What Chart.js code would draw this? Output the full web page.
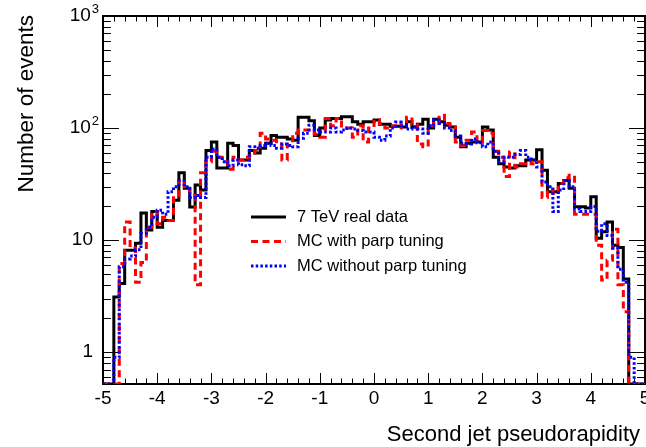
<!DOCTYPE html>
<html>
<head>
<meta charset="utf-8">
<script src="https://cdn.jsdelivr.net/npm/chart.js@4.4.3/dist/chart.umd.min.js"></script>
<style>
  html, body { margin: 0; padding: 0; background: #fff; }
  #wrap { width: 646px; height: 447px; }
</style>
</head>
<body>
<div id="wrap"><canvas id="chart" width="646" height="447"></canvas></div>
<script>
// binning of the histogram: 100 bins of 0.1 in pseudorapidity
const etaMin = -5;
const etaMax = 5;
const nBins = 100;

// bin contents (0 = empty bin)
const realData = [
  0, 0, 3.1, 4.1, 8.1, 8.1, 9.4, 17.5, 12.3, 18,
  13, 15, 15, 22.7, 40, 29, 19.7, 31, 28, 63,
  75, 44, 44, 73, 70, 52, 52, 63, 60, 66,
  73, 86, 83, 83, 80, 78, 125, 125, 116, 86,
  100, 118, 122, 122, 126, 126, 114, 108, 114, 114,
  118, 108, 108, 104, 104, 102, 114, 102, 108, 120,
  100, 120, 114, 106, 102, 83, 68, 73, 75, 75,
  102, 96, 55, 48, 45, 44, 46, 46, 52, 52,
  64, 42, 27, 27, 32, 34, 29, 19.8, 19.8, 19.3,
  24.4, 10.4, 11.9, 14.5, 9, 8.6, 4.5, 0, 0, 0
];
const mcParpTuned = [
  0, 0, 0, 6.2, 14.5, 8.5, 4.2, 6.3, 13, 18,
  14, 16, 15, 25, 34, 30, 25, 4, 40, 50,
  62, 55, 50, 43, 55, 52, 55, 57, 63, 90,
  80, 78, 72, 52, 70, 90, 96, 96, 92, 88,
  83, 122, 105, 122, 100, 100, 83, 105, 75, 100,
  118, 110, 100, 105, 100, 110, 125, 108, 72, 68,
  105, 110, 130, 110, 102, 75, 70, 78, 92, 75,
  95, 90, 62, 55, 37, 61, 45, 48, 50, 48,
  50, 24, 28, 26, 32, 36, 38, 17, 17, 17,
  17, 9, 4.4, 6.6, 12.5, 4, 2.3, 0, 0, 0
];
const mcNoParpTuning = [
  0, 0, 0.9, 5.8, 6.8, 7.2, 8.2, 11.5, 13, 16,
  18.5, 17, 27, 30, 34, 30, 24, 25, 24, 55,
  65, 55, 50, 46, 52, 47, 46, 68, 66, 70,
  73, 70, 66, 72, 70, 68, 81, 90, 106, 96,
  92, 92, 100, 92, 96, 100, 98, 95, 92, 92,
  83, 78, 85, 100, 113, 105, 98, 102, 98, 90,
  105, 118, 110, 100, 95, 85, 73, 72, 80, 74,
  68, 75, 62, 50, 55, 55, 58, 63, 55, 52,
  45, 33, 30, 18, 28, 34, 30, 19, 18, 18,
  20, 12, 14, 11, 8.5, 5.5, 4.2, 0.9, 0, 0
];

const seriesLabels = ['7 TeV real data', 'MC with parp tuning', 'MC without parp tuning'];

const xTickValues = [-5, -4, -3, -2, -1, 0, 1, 2, 3, 4, 5];
const xTickLabels = ['-5', '-4', '-3', '-2', '-1', '0', '1', '2', '3', '4', '5'];
const yTickValues = [1, 10, 100, 1000];
const yTickLabels = ['1', '10', '10^2', '10^3'];

const yMin = 0.52;
const yMax = 1000;

const FONT = "'Liberation Sans', Arial, Helvetica, sans-serif";

const binWidth = (etaMax - etaMin) / nBins;
const binLow = realData.map((_, i) => etaMin + i * binWidth);

// histogram outline: one point per low edge, closing point at the upper edge.
// empty bins go along the bottom of the frame like ROOT does on a log pad
function histPoints(values) {
  const pts = values.map((v, i) => ({ x: binLow[i], y: v > 0 ? v : yMin }));
  pts.push({ x: etaMax, y: pts[pts.length - 1].y });
  return pts;
}

const rootFrame = {
  id: 'rootFrame',
  beforeDatasetsDraw(chart) {
    const { ctx, chartArea: a, scales: { x, y } } = chart;
    ctx.save();
    ctx.strokeStyle = '#000';
    ctx.lineWidth = 1;
    ctx.beginPath();
    // x ticks, every 0.2, inward on bottom and top
    for (let k = 0; k <= 50; k++) {
      const v = etaMin + k * 0.2;
      const px = Math.round(x.getPixelForValue(v)) + 0.5;
      const len = k % 5 === 0 ? 11 : 5.5;
      ctx.moveTo(px, a.bottom); ctx.lineTo(px, a.bottom - len);
      ctx.moveTo(px, a.top); ctx.lineTo(px, a.top + len);
    }
    // y ticks, log decades with 2..9 subdivisions, left and right
    for (let d = -1; d <= 3; d++) {
      for (let m = 1; m <= 9; m++) {
        const v = m * Math.pow(10, d);
        if (v < yMin || v > yMax) continue;
        const py = Math.round(y.getPixelForValue(v)) + 0.5;
        const len = m === 1 ? 16 : 8;
        ctx.moveTo(a.left, py); ctx.lineTo(a.left + len, py);
        ctx.moveTo(a.right, py); ctx.lineTo(a.right - len, py);
      }
    }
    ctx.stroke();

    ctx.lineWidth = 2;
    ctx.strokeRect(a.left, a.top, a.right - a.left, a.bottom - a.top);

    // tick labels
    ctx.fillStyle = '#000';
    ctx.font = '19px ' + FONT;
    ctx.textAlign = 'center';
    ctx.textBaseline = 'top';
    xTickValues.forEach((v, i) => {
      ctx.fillText(xTickLabels[i], x.getPixelForValue(v), a.bottom + 5);
    });
    ctx.textBaseline = 'middle';
    yTickValues.forEach((v, i) => {
      const [base, exp] = yTickLabels[i].split('^');
      const py = y.getPixelForValue(v);
      let right = a.left - 4;
      if (exp) {
        ctx.font = '13px ' + FONT;
        ctx.textAlign = 'right';
        ctx.fillText(exp, right, py - 7);
        right -= ctx.measureText(exp).width + 1;
      } else {
        right -= 6;
      }
      ctx.font = '19px ' + FONT;
      ctx.textAlign = 'right';
      ctx.fillText(base, right, py);
    });

    // axis titles, right/top aligned as in ROOT
    ctx.textAlign = 'right';
    ctx.textBaseline = 'alphabetic';
    ctx.font = '22px ' + FONT;
    ctx.fillText('Second jet pseudorapidity', 640, 441);
    ctx.save();
    ctx.font = '22.5px ' + FONT;
    ctx.translate(33, 15);
    ctx.rotate(-Math.PI / 2);
    ctx.fillText('Number of events', 0, 0);
    ctx.restore();
    ctx.restore();
  },
  afterDatasetsDraw(chart) {
    const { ctx } = chart;
    ctx.save();
    ctx.font = '16.5px ' + FONT;
    ctx.textAlign = 'left';
    ctx.textBaseline = 'middle';
    chart.data.datasets.forEach((ds, i) => {
      const yy = 217 + i * 24.5;
      ctx.strokeStyle = ds.borderColor;
      ctx.lineWidth = ds.borderWidth;
      ctx.setLineDash(ds.borderDash || []);
      ctx.beginPath();
      ctx.moveTo(251, yy);
      ctx.lineTo(286, yy);
      ctx.stroke();
      ctx.setLineDash([]);
      ctx.fillStyle = '#000';
      ctx.fillText(ds.label, 297, yy);
    });
    ctx.restore();
  }
};

new Chart(document.getElementById('chart'), {
  type: 'line',
  data: {
    datasets: [
      {
        label: seriesLabels[0],
        data: histPoints(realData),
        borderColor: '#000000',
        borderWidth: 3,
        order: 3
      },
      {
        label: seriesLabels[1],
        data: histPoints(mcParpTuned),
        borderColor: '#ff0000',
        borderWidth: 3,
        borderDash: [7, 4.5],
        order: 2
      },
      {
        label: seriesLabels[2],
        data: histPoints(mcNoParpTuning),
        borderColor: '#0000ff',
        borderWidth: 3,
        borderDash: [2.5, 2.2],
        order: 1
      }
    ]
  },
  options: {
    responsive: false,
    animation: false,
    devicePixelRatio: 1,
    layout: { padding: { left: 103, top: 16, right: 1, bottom: 63 } },
    elements: {
      // 'before': horizontal across the bin first, then the vertical step
      line: { stepped: 'before', tension: 0, fill: false },
      point: { radius: 0 }
    },
    plugins: {
      legend: { display: false },
      tooltip: { enabled: false }
    },
    scales: {
      x: { type: 'linear', min: etaMin, max: etaMax, display: false },
      y: { type: 'logarithmic', min: yMin, max: yMax, display: false }
    }
  },
  plugins: [rootFrame]
});
</script>
</body>
</html>
